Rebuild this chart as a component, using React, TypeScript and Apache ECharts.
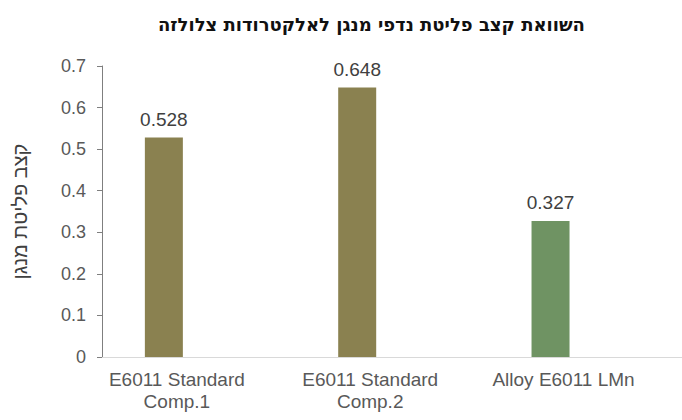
import React, { useEffect, useRef } from "react";
import * as echarts from "echarts";

const categories = ["E6011 Standard\nComp.1", "E6011 Standard\nComp.2", "Alloy E6011 LMn"];
const values = [0.528, 0.648, 0.327];
const barColors = ["#8a8150", "#8a8150", "#6f9363"];
const yTicks = [0, 0.1, 0.2, 0.3, 0.4, 0.5, 0.6, 0.7];
const titleText = "השוואת קצב פליטת נדפי מנגן לאלקטרודות צלולזה";
const yName = "קצב פליטת מנגן";

export default function App() {
  const ref = useRef<HTMLDivElement>(null);
  useEffect(() => {
    if (!ref.current) return;
    const chart = echarts.init(ref.current, null, { renderer: "svg" });
    const positions = categories.map((_, i) => i);
    chart.setOption({
      animation: false,
      backgroundColor: "#ffffff",
      title: {
        text: titleText,
        left: 153,
        top: 10,
        textStyle: { fontFamily: "DejaVu Sans", fontSize: 18, fontWeight: "bold", color: "#111111" },
      },
      grid: { left: 102, right: 0, top: 66, bottom: 63, containLabel: false },
      xAxis: {
        type: "value",
        min: -0.32,
        max: 2.68,
        splitLine: { show: false },
        axisLine: { show: true, onZero: false, lineStyle: { color: "#d9d9d9", width: 1 } },
        axisTick: { show: false },
        axisLabel: {
          customValues: positions,
          formatter: (v: number) => categories[Math.round(v)] ?? "",
          fontFamily: "Liberation Sans",
          fontSize: 19,
          color: "#595959",
          lineHeight: 22,
          margin: 11,
          padding: [0, 0, 0, 26],
        },
      },
      yAxis: {
        type: "value",
        min: yTicks[0],
        max: yTicks[yTicks.length - 1],
        interval: 0.1,
        name: yName,
        nameLocation: "middle",
        nameGap: 72,
        nameRotate: 90,
        nameTextStyle: { fontFamily: "Liberation Sans", fontSize: 20, color: "#404040" },
        splitLine: { show: false },
        axisLine: { show: true, onZero: false, lineStyle: { color: "#7f7f7f", width: 1 } },
        axisTick: { show: true, inside: false, length: 5, lineStyle: { color: "#7f7f7f" } },
        axisLabel: {
          formatter: (v: number) => String(Math.round(v * 10) / 10),
          fontFamily: "Liberation Sans",
          fontSize: 18,
          color: "#595959",
          margin: 16,
        },
      },
      series: [
        {
          type: "bar",
          barWidth: 38,
          data: values.map((v, i) => ({
            value: [positions[i], v],
            itemStyle: { color: barColors[i] },
          })),
          label: {
            show: true,
            position: "top",
            distance: 9,
            formatter: (p: any) => String(p.value[1]),
            fontFamily: "Liberation Sans",
            fontSize: 19,
            color: "#404040",
          },
        },
      ],
    });
    return () => chart.dispose();
  }, []);
  return <div ref={ref} style={{ width: 682, height: 420, position: "fixed", left: 0, top: 0 }} />;
}
